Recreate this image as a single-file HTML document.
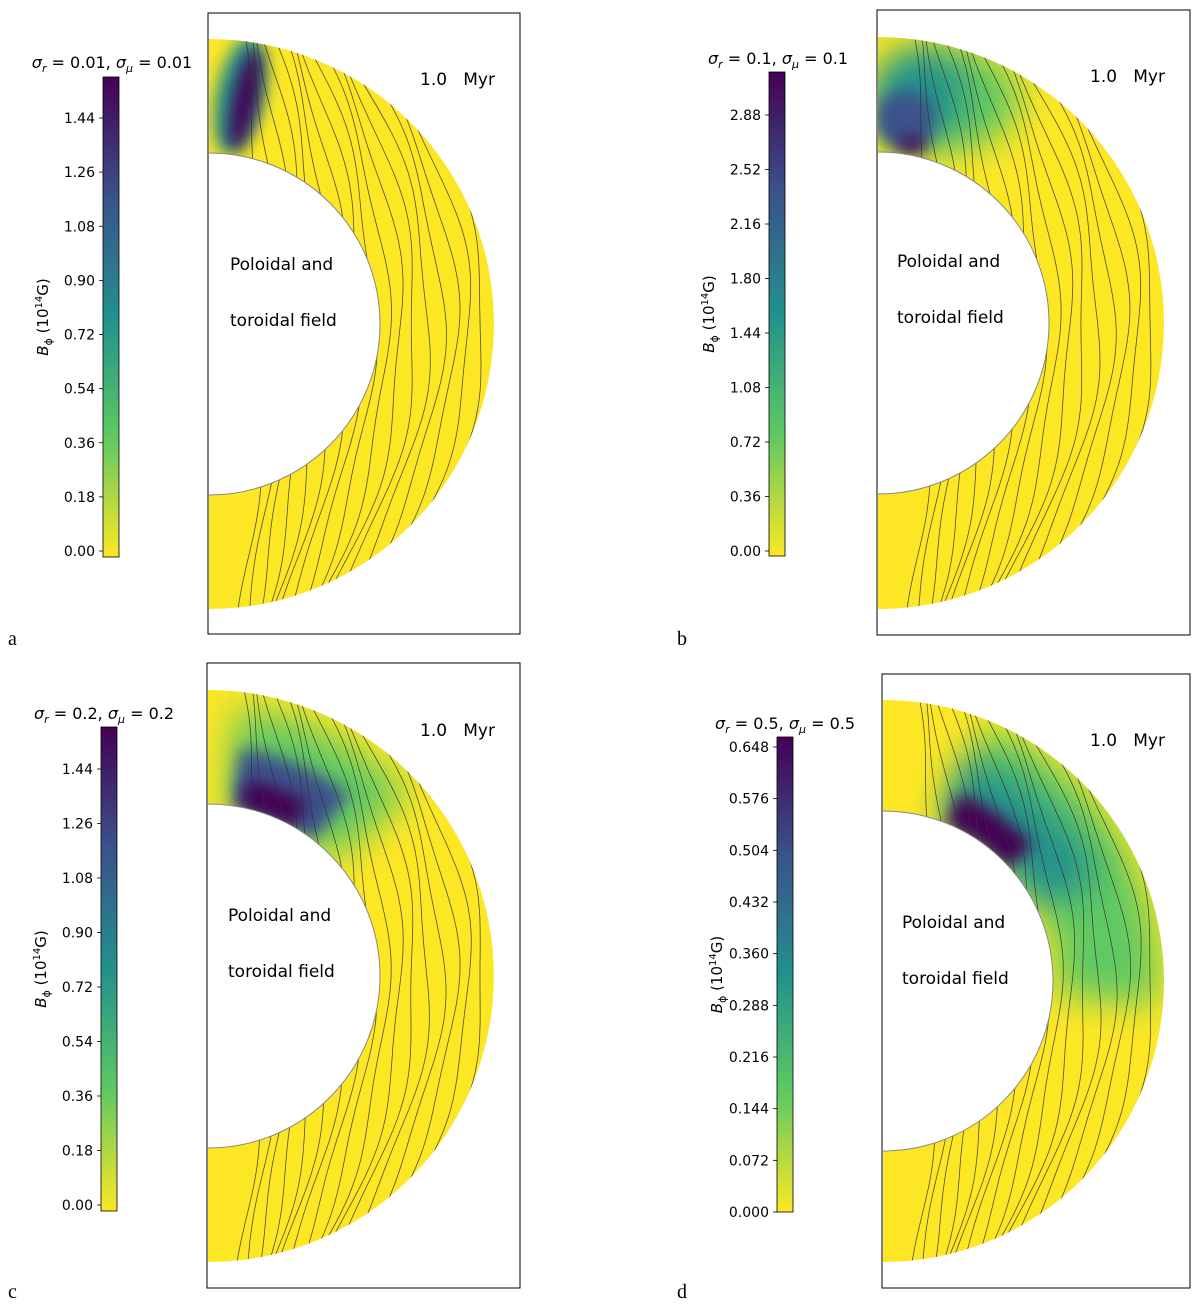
<!DOCTYPE html>
<html><head><meta charset="utf-8">
<style>
html,body{margin:0;padding:0;background:#fff;}
svg{display:block;font-family:"DejaVu Sans","Liberation Sans",sans-serif;}
</style></head>
<body>
<svg id="fig" width="1200" height="1311" viewBox="0 0 1200 1311" xmlns="http://www.w3.org/2000/svg">
<defs>
<linearGradient id="viridis" x1="0" y1="1" x2="0" y2="0">
<stop offset="0" stop-color="#fde725"/><stop offset="0.25" stop-color="#5ec962"/>
<stop offset="0.5" stop-color="#21918c"/><stop offset="0.75" stop-color="#3b528b"/>
<stop offset="1" stop-color="#440154"/></linearGradient>
<filter id="blur8" filterUnits="userSpaceOnUse" x="0" y="0" width="1200" height="1311"><feGaussianBlur stdDeviation="8"/></filter>
<filter id="blur18" filterUnits="userSpaceOnUse" x="0" y="0" width="1200" height="1311"><feGaussianBlur stdDeviation="18"/></filter>
</defs>
</svg>
<script>
const ticksA = ["0.00","0.18","0.36","0.54","0.72","0.90","1.08","1.26","1.44"];
const ticksB = ["0.00","0.36","0.72","1.08","1.44","1.80","2.16","2.52","2.88"];
const ticksC = ["0.00","0.18","0.36","0.54","0.72","0.90","1.08","1.26","1.44"];
const ticksD = ["0.000","0.072","0.144","0.216","0.288","0.360","0.432","0.504","0.576","0.648"];
const titles = ["σ_r = 0.01, σ_μ = 0.01","σ_r = 0.1, σ_μ = 0.1","σ_r = 0.2, σ_μ = 0.2","σ_r = 0.5, σ_μ = 0.5"];
const letters = ["a","b","c","d"];

const NS="http://www.w3.org/2000/svg";
const svg=document.getElementById('fig');
function el(tag,attrs,parent){const e=document.createElementNS(NS,tag);for(const k in attrs)e.setAttribute(k,attrs[k]);(parent||svg).appendChild(e);return e;}

const panels=[
 {box:[208,13,312,621],cx:209,cy:324,R:285,r:171,cb:[103,77,16,480],t0:551,tN:118,ticks:ticksA,title:[112,68],letter:[8,645],myr:[420,85],txt:[230,270]},
 {box:[877,10,313,625],cx:878,cy:323,R:286,r:171,cb:[769,72,16,484],t0:551,tN:115,ticks:ticksB,title:[778,64],letter:[677,645],myr:[1090,82],txt:[897,267]},
 {box:[207,663,313,625],cx:208,cy:976,R:286,r:172,cb:[101,727,16,484],t0:1205,tN:769,ticks:ticksC,title:[104,719],letter:[8,1298],myr:[420,736],txt:[228,921]},
 {box:[882,674,308,614],cx:883,cy:981,R:281,r:170,cb:[777,737,16,475],t0:1212,tN:747,ticks:ticksD,title:[785,729],letter:[677,1298],myr:[1090,746],txt:[902,928]}
];

panels.forEach((p,i)=>{
 const g=el('g',{});
 
 
 const ann=`M${p.cx},${p.cy-p.R} A${p.R},${p.R} 0 0 1 ${p.cx},${p.cy+p.R} L${p.cx},${p.cy+p.r} A${p.r},${p.r} 0 0 0 ${p.cx},${p.cy-p.r} Z`;
 const cp=el('clipPath',{id:'clip'+i},g);el('path',{d:ann},cp);
 const a=el('path',{d:ann,fill:'#fde725'},g);
 
 
 const blobs=el('g',{'clip-path':`url(#clip${i})`},g);
 const P=(rad,deg)=>[p.cx+rad*Math.sin(deg*Math.PI/180),p.cy-rad*Math.cos(deg*Math.PI/180)];
 const arc=(rad,d0,d1)=>{const s=P(rad,d0),e=P(rad,d1);return `M${s[0]},${s[1]} A${rad},${rad} 0 0 1 ${e[0]},${e[1]}`;};
 if(i===0){
  el('ellipse',{cx:240,cy:95,rx:24,ry:60,transform:'rotate(12 240 95)',fill:'#21918c',filter:'url(#blur8)'},blobs);
  el('ellipse',{cx:245,cy:100,rx:12,ry:52,transform:'rotate(12 245 100)',fill:'#440154',filter:'url(#blur8)'},blobs);
 }else if(i===1){
  el('ellipse',{cx:950,cy:100,rx:70,ry:50,fill:'#5ec962',filter:'url(#blur18)'},blobs);
  el('ellipse',{cx:920,cy:95,rx:45,ry:45,fill:'#21918c',filter:'url(#blur18)'},blobs);
  el('ellipse',{cx:905,cy:120,rx:30,ry:30,fill:'#3b528b',filter:'url(#blur8)'},blobs);
  el('ellipse',{cx:912,cy:145,rx:15,ry:8,fill:'#440154',filter:'url(#blur8)'},blobs);
 }else if(i===2){
  el('path',{d:arc(220,6,48),stroke:'#5ec962','stroke-width':100,fill:'none',filter:'url(#blur18)'},blobs);
  el('path',{d:arc(200,8,38),stroke:'#3b528b','stroke-width':60,fill:'none',filter:'url(#blur8)'},blobs);
  el('path',{d:arc(185,11,30),stroke:'#440154','stroke-width':30,fill:'none',filter:'url(#blur8)'},blobs);
 }else{
  el('path',{d:arc(225,22,95),stroke:'#5ec962','stroke-width':100,fill:'none',filter:'url(#blur18)'},blobs);
  el('path',{d:arc(205,20,65),stroke:'#21918c','stroke-width':70,fill:'none',filter:'url(#blur18)'},blobs);
  el('path',{d:arc(185,22,48),stroke:'#440154','stroke-width':35,fill:'none',filter:'url(#blur8)'},blobs);
 }
 // contour lines: field lines clipped to the annulus
 const cl=el('g',{'clip-path':`url(#clip${i})`,stroke:'#333','stroke-width':0.8,fill:'none',opacity:0.85},g);
 const nL=17;
 for(let k=0;k<nL;k++){
  const x0=p.cx+55+k*(p.R-65)/(nL-1);let d='';
  for(let s=0;s<=60;s++){
   const y=p.cy-p.R+2*p.R*s/60;
   const t=(y-p.cy)/p.R;
   const x=p.cx+(x0-p.cx)*(1-0.4*t*t)+4*Math.sin(y/35+k*1.3);
   d+=(s?'L':'M')+x.toFixed(1)+','+y.toFixed(1);
  }
  const c=el('path',{d},cl);
  
  
 }
 el('path',{d:`M${p.cx},${p.cy+p.r} A${p.r},${p.r} 0 0 0 ${p.cx},${p.cy-p.r}`,stroke:'#888','stroke-width':1,fill:'none'},g);
 const box=el('rect',{x:p.box[0],y:p.box[1],width:p.box[2],height:p.box[3],fill:'none',stroke:'#000','stroke-width':1},g);
 
 
 const my=el('text',{x:p.myr[0],y:p.myr[1],'font-size':17},g);my.textContent='1.0\u00a0\u00a0\u00a0Myr';
 
 
 const t1=el('text',{x:p.txt[0],y:p.txt[1],'font-size':17},g);t1.textContent='Poloidal and';
 
 
 const t2=el('text',{x:p.txt[0],y:p.txt[1]+56,'font-size':17},g);t2.textContent='toroidal field';
 
 
 const cb=el('rect',{x:p.cb[0],y:p.cb[1],width:p.cb[2],height:p.cb[3],fill:'url(#viridis)',stroke:'#000','stroke-width':0.8},g);
 
 
 const n=p.ticks.length-1;
 const yScale=v=>p.t0+(p.tN-p.t0)*(v/parseFloat(p.ticks[n]));
 p.ticks.forEach(t=>{
  const y=yScale(parseFloat(t));
  el('line',{x1:p.cb[0]-4,x2:p.cb[0],y1:y,y2:y,stroke:'#000','stroke-width':0.8},g);
  const tx=el('text',{x:p.cb[0]-8,y:y+5,'font-size':14,'text-anchor':'end'},g);tx.textContent=t;
  
  
 });
 const ym=p.cb[1]+p.cb[3]/2, xl=p.cb[0]-55;
 const yl=el('text',{x:xl,y:ym,'font-size':15,'text-anchor':'middle',transform:`rotate(-90 ${xl} ${ym})`},g);
 yl.innerHTML='<tspan font-style="italic">B</tspan><tspan font-size="11" dy="4">ϕ</tspan><tspan dy="-4"> (10</tspan><tspan font-size="10" dy="-6">14</tspan><tspan dy="6">G)</tspan>';
 
 
 const parts=titles[i].split(', ');
 const v1=parts[0].split(' = ')[1],v2=parts[1].split(' = ')[1];
 const tt=el('text',{x:p.title[0],y:p.title[1],'font-size':16,'text-anchor':'middle'},g);
 tt.innerHTML=`<tspan font-style="italic">σ</tspan><tspan font-size="11" dy="4" font-style="italic">r</tspan><tspan dy="-4"> = ${v1}, </tspan><tspan font-style="italic">σ</tspan><tspan font-size="11" dy="4" font-style="italic">μ</tspan><tspan dy="-4"> = ${v2}</tspan>`;
 
 
 const lt=el('text',{x:p.letter[0],y:p.letter[1],'font-size':20,'font-family':'Liberation Serif, serif'},g);lt.textContent=letters[i];
 
 
});
</script>
</body></html>
